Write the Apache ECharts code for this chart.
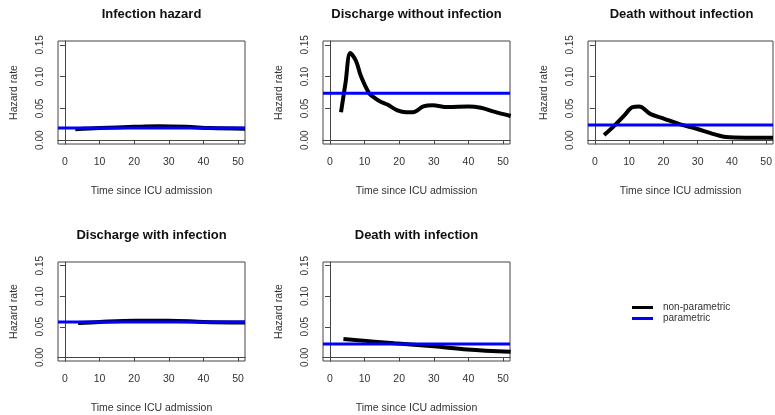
<!DOCTYPE html>
<html>
<head>
<meta charset="utf-8">
<script src="https://cdn.jsdelivr.net/npm/echarts@6/dist/echarts.min.js"></script>
<style>
  html, body { margin: 0; padding: 0; background: #fff; }
  #chart { width: 775px; height: 415px; }
</style>
</head>
<body>
<div id="chart"></div>
<script>
// tick values shared by every panel
var xTicks = [0, 10, 20, 30, 40, 50];
var yTicks = [0, 0.05, 0.10, 0.15];

var titles = ['Infection hazard', 'Discharge without infection', 'Death without infection',
              'Discharge with infection', 'Death with infection'];

// non-parametric estimates (time, hazard)
var infT  = [3, 10, 20, 27, 35, 42, 52];
var infNp = [0.017, 0.019, 0.021, 0.022, 0.021, 0.019, 0.018];

var disT  = [3.2, 4.5, 5.9, 7.5, 9, 11.3, 12.8, 14.5, 16.6, 19.5, 22, 24, 27, 29.6, 34, 40, 43.6, 47.4, 52.2];
var disNp = [0.044, 0.09, 0.137, 0.125, 0.1, 0.074, 0.067, 0.061, 0.056, 0.047, 0.044, 0.044, 0.053, 0.055, 0.052, 0.053, 0.051, 0.045, 0.038];

var deaT  = [2.7, 5.7, 8.6, 11, 12.9, 16.3, 20.1, 24.9, 29.7, 34.4, 38.3, 44, 52];
var deaNp = [0.008, 0.023, 0.039, 0.052, 0.053, 0.041, 0.034, 0.025, 0.018, 0.010, 0.005, 0.004, 0.004];

var disInfT  = [3.8, 10, 20, 25, 30, 40, 52];
var disInfNp = [0.056, 0.058, 0.060, 0.060, 0.060, 0.058, 0.057];

var deaInfT  = [3.9, 18.6, 30, 39.7, 52.2];
var deaInfNp = [0.030, 0.023, 0.018, 0.013, 0.009];

// parametric (constant) hazards
var paramRate = [0.019, 0.074, 0.024, 0.058, 0.022];

var npT = [infT, disT, deaT, disInfT, deaInfT];
var npY = [infNp, disNp, deaNp, disInfNp, deaInfNp];

var boxes = [
    {left: 58,  top: 41},
    {left: 323, top: 41},
    {left: 588, top: 41},
    {left: 58,  top: 262},
    {left: 323, top: 262}
];

var chart = echarts.init(document.getElementById('chart'));
var font = 'Liberation Sans, Arial, sans-serif';

var grids = [], xAxes = [], yAxes = [], series = [], titleList = [];

boxes.forEach(function (b, i) {
    grids.push({
        left: b.left, top: b.top, width: 187, height: 103,
        show: true, borderColor: '#444', borderWidth: 1, backgroundColor: '#fff'
    });
    titleList.push({
        text: titles[i], padding: 0,
        left: b.left + 93.5, top: b.top - 33.5, textAlign: 'center',
        textStyle: {fontFamily: font, fontSize: 13, fontWeight: 'bold', color: '#111'}
    });
    xAxes.push({
        gridIndex: i, type: 'value', min: -2, max: 52, offset: 2,
        name: 'Time since ICU admission', nameLocation: 'middle', nameGap: 40,
        nameTextStyle: {fontFamily: font, fontSize: 10.5, color: '#333'},
        splitLine: {show: false},
        axisLine: {show: true, lineStyle: {color: '#444', width: 1}},
        axisTick: {show: true, length: 4, customValues: xTicks, lineStyle: {color: '#444'}},
        axisLabel: {customValues: xTicks, margin: 11, fontFamily: font, fontSize: 10.5, color: '#333'}
    });
    yAxes.push({
        gridIndex: i, type: 'value', min: -0.006, max: 0.156, offset: 2,
        name: 'Hazard rate', nameLocation: 'middle', nameGap: 36, nameRotate: 90,
        nameTextStyle: {fontFamily: font, fontSize: 10.5, color: '#333'},
        splitLine: {show: false},
        axisLine: {show: true, lineStyle: {color: '#444', width: 1}},
        axisTick: {show: true, length: 5, customValues: yTicks, lineStyle: {color: '#444'}},
        axisLabel: {
            customValues: yTicks, rotate: 90, margin: 11,
            fontFamily: font, fontSize: 10, color: '#333',
            formatter: function (v) { return v.toFixed(2); }
        }
    });
    series.push({
        name: 'non-parametric', type: 'line', xAxisIndex: i, yAxisIndex: i,
        smooth: 0.35, showSymbol: false, symbol: 'none',
        lineStyle: {color: '#000', width: 4}, itemStyle: {color: '#000'},
        data: npT[i].map(function (t, k) { return [t, npY[i][k]]; })
    });
    series.push({
        name: 'parametric', type: 'line', xAxisIndex: i, yAxisIndex: i,
        showSymbol: false, symbol: 'none',
        lineStyle: {color: '#0000ff', width: 3}, itemStyle: {color: '#0000ff'},
        data: [[-2, paramRate[i]], [52, paramRate[i]]]
    });
});

chart.setOption({
    animation: false,
    backgroundColor: '#fff',
    title: titleList,
    legend: {
        orient: 'vertical', left: 627, top: 297,
        icon: 'rect', itemWidth: 21, itemHeight: 3, itemGap: 0,
        data: ['non-parametric', 'parametric'],
        textStyle: {fontFamily: font, fontSize: 10, color: '#333', lineHeight: 11, padding: [0, 0, 0, 5]}
    },
    grid: grids,
    xAxis: xAxes,
    yAxis: yAxes,
    series: series
});
</script>
</body>
</html>
